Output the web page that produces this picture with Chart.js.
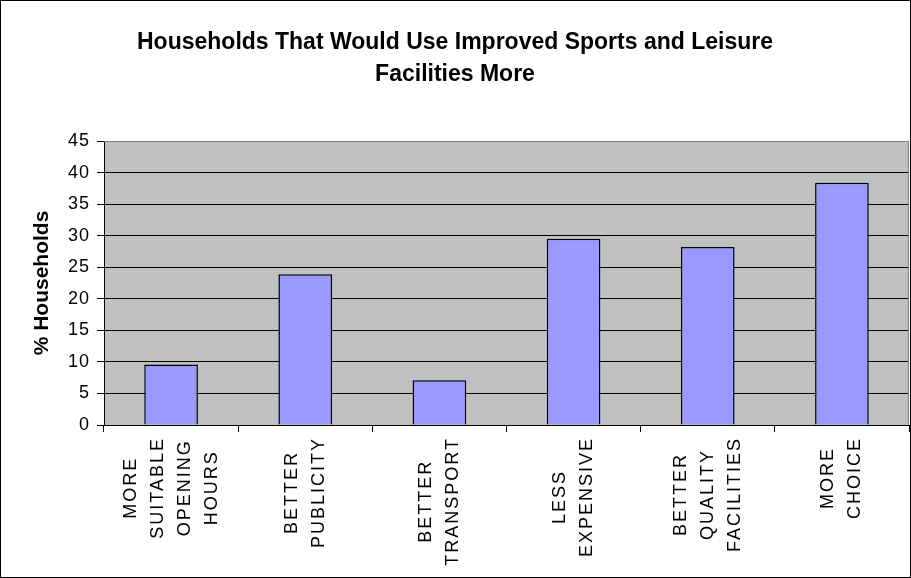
<!DOCTYPE html>
<html>
<head>
<meta charset="utf-8">
<title>Households That Would Use Improved Sports and Leisure Facilities More</title>
<script src="https://cdn.jsdelivr.net/npm/chart.js@4.4.1/dist/chart.umd.min.js"></script>
<style>
  html, body { margin: 0; padding: 0; background: #fff; }
  #wrap { width: 911px; height: 578px; border: 1px solid #000; box-sizing: border-box; }
</style>
</head>
<body>
<div id="wrap"><canvas id="chart"></canvas></div>
<script>
// chart data
const titleLines = ["Households That Would Use Improved Sports and Leisure", "Facilities More"];
const yTitle = "% Households";
const categories = [
  ["MORE", "SUITABLE", "OPENING", "HOURS"],
  ["BETTER", "PUBLICITY"],
  ["BETTER", "TRANSPORT"],
  ["LESS", "EXPENSIVE"],
  ["BETTER", "QUALITY", "FACILITIES"],
  ["MORE", "CHOICE"],
];
const households = [9.6, 23.9, 7.1, 29.5, 28.2, 38.4];
const yTicks = [0, 5, 10, 15, 20, 25, 30, 35, 40, 45];

const FONT = "'Liberation Sans', Arial, sans-serif";

// Excel spreads the small text out a little, the titles not
const spacing = {
  id: "spacing",
  beforeDraw(chart) { chart.ctx.letterSpacing = "0px"; },
  afterDatasetsDraw(chart) { chart.ctx.letterSpacing = "1px"; }, // y tick labels are drawn after this (z: 1)
  afterDraw(chart) { chart.ctx.letterSpacing = "0px"; },
};

// grey plot area with a grey frame on top and right
const plotArea = {
  id: "plotArea",
  beforeDraw(chart) {
    const { ctx, chartArea: a } = chart;
    ctx.save();
    ctx.fillStyle = "#C0C0C0";
    ctx.fillRect(a.left, a.top, a.right - a.left, a.bottom - a.top);
    ctx.restore();
  },
  afterDraw(chart) {
    const { ctx, chartArea: a } = chart;
    ctx.save();
    ctx.strokeStyle = "#808080";
    ctx.lineWidth = 1;
    ctx.beginPath();
    ctx.moveTo(a.left, a.top + 0.5);
    ctx.lineTo(a.right - 0.5, a.top + 0.5);
    ctx.lineTo(a.right - 0.5, a.bottom);
    ctx.stroke();
    ctx.restore();
  },
};

// rotated category labels, lines centred on each other like Excel does
const categoryLabels = {
  id: "categoryLabels",
  afterDraw(chart) {
    const xScale = chart.scales.x;
    const ctx = chart.ctx;
    ctx.save();
    ctx.font = "18px " + FONT;
    ctx.letterSpacing = "2px";
    ctx.fillStyle = "#000";
    ctx.textAlign = "center";
    ctx.textBaseline = "middle";
    categories.forEach((lines, i) => {
      const widest = Math.max(...lines.map((l) => ctx.measureText(l).width));
      const cx = xScale.getPixelForTick(i);
      const cy = xScale.top + 12 + widest / 2;
      ctx.save();
      ctx.translate(cx, cy);
      ctx.rotate(-Math.PI / 2);
      lines.forEach((line, j) => {
        ctx.fillText(line, 0, (j - (lines.length - 1) / 2) * 27);
      });
      ctx.restore();
    });
    ctx.restore();
  },
};

const ctx = document.getElementById("chart").getContext("2d");
new Chart(ctx, {
  type: "bar",
  data: {
    labels: categories.map((lines) => lines.join(" ")),
    datasets: [
      {
        label: yTitle,
        data: households,
        backgroundColor: "#9999FF",
        borderColor: "#000000",
        borderWidth: 1.5,
        barPercentage: 0.4,
        categoryPercentage: 1,
      },
    ],
  },
  options: {
    responsive: true,
    maintainAspectRatio: false,
    animation: false,
    layout: { padding: { left: 0, right: 1, top: 0, bottom: 0 } },
    plugins: {
      legend: { display: false },
      tooltip: { enabled: false },
      title: {
        display: true,
        text: titleLines,
        color: "#000",
        font: { family: FONT, size: 23, weight: "bold", lineHeight: 31.5 / 23 },
        padding: { top: 26, bottom: 51 },
      },
    },
    scales: {
      x: {
        grid: { drawOnChartArea: false, tickLength: 7, color: "#000" },
        border: { color: "#000" },
        ticks: { display: false },
        afterFit(scale) { scale.height = 152; },
      },
      y: {
        min: yTicks[0],
        max: yTicks[yTicks.length - 1],
        ticks: {
          stepSize: yTicks[1] - yTicks[0],
          color: "#000",
          padding: 7,
          z: 1,
          font: { family: FONT, size: 18 },
        },
        grid: {
          color: (c) => (c.tick && c.tick.value === yTicks[yTicks.length - 1] ? "#808080" : "#000"),
          tickColor: "#000",
          tickLength: 7,
        },
        border: { color: "#000" },
        title: {
          display: true,
          text: yTitle,
          color: "#000",
          font: { family: FONT, size: 21, weight: "bold" },
          padding: { top: 29, bottom: 0 },
        },
        afterFit(scale) { scale.width = 103; },
      },
    },
  },
  plugins: [spacing, plotArea, categoryLabels],
});
</script>
</body>
</html>
